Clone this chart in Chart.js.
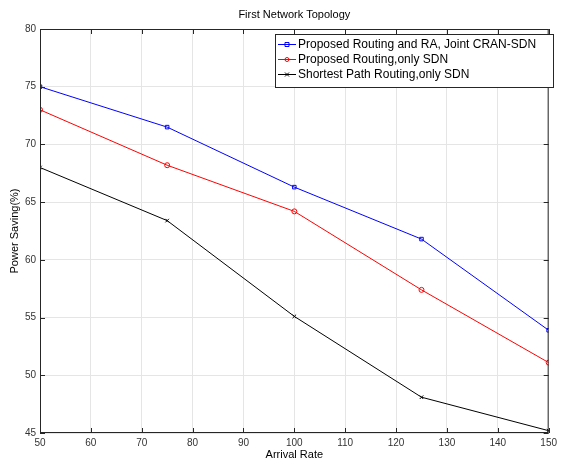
<!DOCTYPE html>
<html><head><meta charset="utf-8">
<script src="https://cdn.jsdelivr.net/npm/chart.js@4/dist/chart.umd.min.js"></script>
<style>html,body{margin:0;padding:0;background:#fff}#wrap{width:561px;height:459px}</style>
</head><body><div id="wrap"><canvas id="c" width="561" height="459"></canvas></div>
<script>
const arrivalRate = [50, 75, 100, 125, 150];
const jointCranSdn = [75.0, 71.5, 66.3, 61.8, 53.9];
const routingSdn = [73.0, 68.2, 64.2, 57.4, 51.1];
const shortestSdn = [68.0, 63.4, 55.1, 48.1, 45.2];
const seriesNames = ['Proposed Routing and RA, Joint CRAN-SDN', 'Proposed Routing,only SDN', 'Shortest Path Routing,only SDN'];
const titleText = 'First Network Topology';
const xTitle = 'Arrival Rate';
const yTitle = 'Power Saving(%)';

const FONT = 'Liberation Sans, Arial, Helvetica, sans-serif';
const toPts = ys => arrivalRate.map((x, i) => ({x, y: ys[i]}));

const frame = {
  id: 'frame',
  afterDraw(chart) {
    const {ctx, chartArea: a, scales} = chart;
    ctx.save();
    ctx.strokeStyle = '#262626'; ctx.lineWidth = 1;
    ctx.strokeRect(a.left + 0.5, a.top + 0.5, a.right - a.left - 1, a.bottom - a.top - 1);
    const tl = 5;
    ctx.beginPath();
    scales.x.ticks.forEach(t => {
      const px = Math.round(scales.x.getPixelForValue(t.value)) + 0.5;
      ctx.moveTo(px, a.bottom); ctx.lineTo(px, a.bottom - tl);
      ctx.moveTo(px, a.top); ctx.lineTo(px, a.top + tl);
    });
    scales.y.ticks.forEach(t => {
      const py = Math.round(scales.y.getPixelForValue(t.value)) + 0.5;
      ctx.moveTo(a.left, py); ctx.lineTo(a.left + tl, py);
      ctx.moveTo(a.right, py); ctx.lineTo(a.right - tl, py);
    });
    ctx.stroke();
    ctx.fillStyle = '#000'; ctx.font = '11px ' + FONT;
    ctx.textAlign = 'center'; ctx.textBaseline = 'middle';
    ctx.fillText(titleText, (a.left + a.right) / 2, 15);
    const lx = 275, ly = 34, lw = 278, lh = 53;
    ctx.fillStyle = '#fff'; ctx.fillRect(lx, ly, lw, lh);
    ctx.strokeStyle = '#262626'; ctx.strokeRect(lx + 0.5, ly + 0.5, lw, lh);
    ctx.font = '12px ' + FONT; ctx.textAlign = 'left';
    chart.data.datasets.forEach((ds, i) => {
      const y = ly + 10 + i * 15;
      ctx.strokeStyle = ds.borderColor; ctx.lineWidth = 1;
      ctx.beginPath(); ctx.moveTo(lx + 3, y + 0.5); ctx.lineTo(lx + 21, y + 0.5); ctx.stroke();
      const cx = lx + 12;
      ctx.beginPath();
      if (ds.pointStyle === 'rect') { ctx.rect(cx - 2, y - 1.5, 4, 4); }
      else if (ds.pointStyle === 'circle') { ctx.arc(cx, y + 0.5, 2, 0, Math.PI * 2); }
      else { ctx.moveTo(cx - 2, y - 1.5); ctx.lineTo(cx + 2, y + 2.5); ctx.moveTo(cx + 2, y - 1.5); ctx.lineTo(cx - 2, y + 2.5); }
      ctx.stroke();
      ctx.fillStyle = '#000';
      ctx.fillText(ds.label, lx + 23, y + 1);
    });
    ctx.restore();
  }
};

new Chart(document.getElementById('c'), {
  type: 'line',
  data: {
    datasets: [
      {label: seriesNames[0], data: toPts(jointCranSdn), borderColor: '#0000ff', backgroundColor: 'rgba(0,0,0,0)', pointStyle: 'rect', pointRadius: 2.5, pointBorderWidth: 1, borderWidth: 1, pointBorderColor: '#0000ff'},
      {label: seriesNames[1], data: toPts(routingSdn), borderColor: '#ff0000', backgroundColor: 'rgba(0,0,0,0)', pointStyle: 'circle', pointRadius: 2.5, pointBorderWidth: 1, borderWidth: 1, pointBorderColor: '#ff0000'},
      {label: seriesNames[2], data: toPts(shortestSdn), borderColor: '#000000', backgroundColor: 'rgba(0,0,0,0)', pointStyle: 'crossRot', pointRadius: 2.5, pointBorderWidth: 1, borderWidth: 1, pointBorderColor: '#000000'}
    ]
  },
  options: {
    responsive: false, animation: false,
    layout: {padding: {top: 29, right: 8, left: 0, bottom: 0}},
    plugins: {legend: {display: false}, title: {display: false}, tooltip: {enabled: false}},
    scales: {
      x: {
        type: 'linear', min: 50, max: 150,
        ticks: {stepSize: 10, color: '#333', font: {family: FONT, size: 10}, padding: 4, maxRotation: 0},
        grid: {color: '#e5e5e5', tickLength: 0, drawTicks: false},
        border: {display: false},
        title: {display: true, text: xTitle, color: '#000', font: {family: FONT, size: 11}, padding: {top: 0, bottom: -3}},
        afterFit(s) { s.height = 26; }
      },
      y: {
        min: 45, max: 80,
        ticks: {stepSize: 5, color: '#333', font: {family: FONT, size: 10}, padding: 4},
        grid: {color: '#e5e5e5', tickLength: 0, drawTicks: false},
        border: {display: false},
        title: {display: true, text: yTitle, color: '#000', font: {family: FONT, size: 11}, padding: {top: 8, bottom: 0}},
        afterFit(s) { s.width = 40; }
      }
    }
  },
  plugins: [frame]
});
</script></body></html>
